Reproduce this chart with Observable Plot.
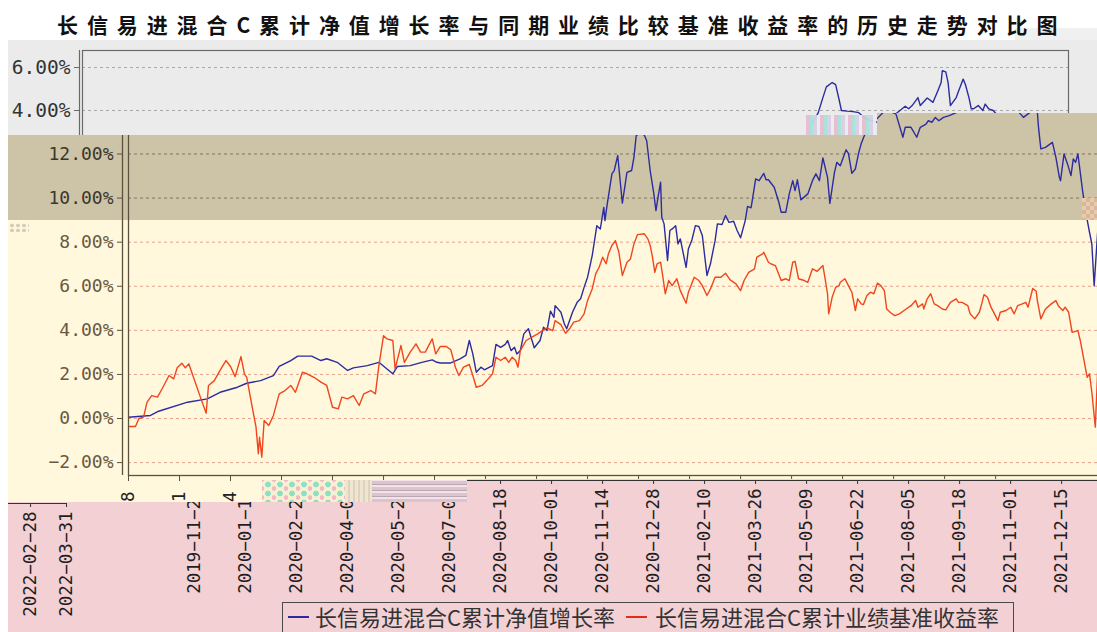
<!DOCTYPE html>
<html><head><meta charset="utf-8">
<script src="https://cdn.jsdelivr.net/npm/d3@7"></script>
<script src="https://cdn.jsdelivr.net/npm/@observablehq/plot@0.6"></script>
<style>
html,body{margin:0;padding:0;background:#fff;overflow:hidden;width:1097px;height:632px;}
#root{position:relative;width:1097px;height:632px;overflow:hidden;background:#fff;}
.abs{position:absolute;}
</style></head><body><div id="root"></div>
<script>
// ---------------- data ----------------
const titleText = "长信易进混合C累计净值增长率与同期业绩比较基准收益率的历史走势对比图";
const seriesNames = ["长信易进混合C累计净值增长率", "长信易进混合C累计业绩基准收益率"];
const startDate = "2019-11-28";
const endDate = "2022-03-31";
const tickLabels = ["2019-11-28","2020-01-11","2020-02-24","2020-04-08","2020-05-22","2020-07-05","2020-08-18","2020-10-01","2020-11-14","2020-12-28","2021-02-10","2021-03-26","2021-05-09","2021-06-22","2021-08-05","2021-09-18","2021-11-01","2021-12-15"];
const wrapTickLabels = ["2022-02-28","2022-03-31"];
const yTicksOlive = [10, 12];
const yTicksYellow = [-2, 0, 2, 4, 6, 8];
const grayTicks = [4, 6];
// [days since startDate, percent]
const navSeries = [[0,0.06],[19,0.14],[26,0.33],[51,0.74],[68,0.89],[79,1.19],[94,1.42],[102,1.60],[114,1.72],[125,1.95],[130,2.36],[140,2.63],[146,2.83],[158,2.83],[166,2.63],[171,2.71],[180,2.55],[189,2.18],[194,2.30],[206,2.40],[216,2.55],[223,2.25],[228,2.03],[232,2.36],[243,2.40],[253,2.55],[262,2.66],[266,2.55],[269,2.52],[278,2.52],[286,2.71],[291,2.86],[294,3.54],[297,2.93],[300,2.10],[304,2.33],[307,2.21],[314,2.40],[317,3.36],[321,3.23],[325,3.36],[327,3.54],[330,3.08],[333,3.23],[335,2.93],[338,3.08],[341,3.84],[345,4.07],[350,3.21],[355,3.54],[358,4.14],[361,3.99],[364,4.87],[367,4.59],[368,5.12],[373,4.82],[376,4.29],[378,4.07],[383,4.82],[387,5.27],[390,5.43],[393,5.95],[396,6.41],[400,7.39],[404,8.75],[407,8.60],[410,9.58],[411,8.98],[413,9.74],[417,11.10],[419,11.25],[422,11.93],[426,9.77],[430,11.17],[434,11.25],[436,11.85],[438,12.85],[442,12.95],[445,12.85],[447,12.60],[450,11.25],[453,10.26],[455,9.43],[457,10.11],[459,10.72],[460,9.13],[462,8.83],[465,7.17],[467,8.53],[469,8.60],[472,8.75],[474,7.92],[476,8.15],[481,6.86],[483,7.70],[486,8.10],[489,8.75],[492,8.71],[495,8.30],[499,6.49],[502,7.02],[506,8.07],[508,8.83],[512,8.80],[515,9.21],[518,8.90],[522,8.95],[525,8.53],[528,8.20],[532,8.98],[534,9.62],[537,9.56],[538,9.86],[541,10.87],[544,10.79],[548,11.12],[550,10.83],[552,10.83],[557,10.49],[561,9.81],[563,9.36],[567,9.36],[570,10.19],[573,10.79],[575,10.34],[577,10.83],[580,9.92],[586,10.19],[590,10.79],[593,11.10],[596,10.79],[599,11.82],[603,10.94],[605,9.76],[609,11.17],[611,11.62],[614,11.47],[619,12.19],[621,12.03],[624,11.12],[627,11.32],[630,12.08],[632,12.46],[636,13.0],[642,13.4],[653,14.0],[662,13.82],[668,12.76],[670,13.21],[675,13.21],[680,12.76],[683,13.21],[688,13.36],[690,13.51],[693,13.44],[696,13.66],[699,13.51],[703,13.66],[708,13.74],[715,13.9],[723,14.3],[739,14.5],[757,14.2],[768,13.9],[772,13.66],[778,13.9],[784,13.9],[785,13.21],[787,12.23],[791,12.30],[797,12.53],[800,11.85],[803,10.94],[804,10.79],[807,12.0],[810,11.55],[813,11.02],[815,11.78],[817,11.62],[819,12.0],[823,10.34],[826,9.28],[829,8.45],[831,7.92],[833,6.03],[836,8.45],[840,8.2]];
const benchSeries = [[0,-0.36],[6,-0.36],[9,0],[13,0.06],[16,0.74],[20,1.04],[25,0.97],[29,1.35],[35,1.95],[39,1.80],[42,2.30],[46,2.51],[49,2.30],[52,2.48],[55,2.03],[62,0.97],[67,0.24],[69,1.50],[74,1.72],[79,2.18],[84,2.63],[88,2.36],[92,1.90],[97,2.81],[100,2.03],[102,1.87],[107,0.44],[110,-0.39],[112,-1.60],[113,-0.85],[115,-1.75],[117,-0.09],[121,-0.32],[125,0.14],[130,1.12],[135,1.27],[140,1.50],[144,1.19],[150,2.10],[154,2.03],[160,1.87],[166,1.65],[171,1.50],[176,0.51],[181,0.44],[184,0.97],[189,0.89],[194,1.04],[199,0.59],[203,1.12],[209,1.27],[213,1.12],[216,2.40],[220,3.76],[223,3.61],[228,3.54],[230,2.25],[235,3.31],[238,2.55],[243,3.01],[248,3.39],[252,3.01],[256,3.01],[262,3.61],[265,2.93],[269,3.27],[274,3.27],[278,3.12],[282,2.33],[285,1.95],[289,2.33],[294,2.45],[297,1.95],[300,1.42],[305,1.50],[309,1.72],[314,2.03],[317,2.78],[321,2.63],[325,2.78],[328,2.55],[331,2.78],[334,2.63],[336,2.33],[338,3.08],[343,3.54],[348,3.69],[353,3.84],[357,3.99],[361,4.11],[366,3.99],[368,4.44],[373,4.26],[377,3.87],[381,4.11],[384,4.37],[389,4.44],[393,4.75],[396,5.35],[400,5.88],[403,6.56],[406,6.86],[409,7.32],[412,7.02],[414,7.47],[417,7.85],[420,8.07],[423,7.54],[426,6.49],[430,7.09],[433,7.24],[436,7.92],[439,8.34],[445,8.38],[448,8.15],[450,7.85],[452,7.32],[454,6.63],[456,7.02],[459,7.09],[461,6.41],[463,5.66],[466,6.26],[469,6.03],[473,6.34],[476,5.80],[481,5.23],[483,5.73],[488,6.41],[492,6.26],[495,6.03],[499,5.58],[502,5.88],[506,6.41],[511,6.41],[515,6.59],[519,6.29],[524,6.11],[528,5.80],[531,6.26],[535,6.63],[540,6.79],[542,7.32],[547,7.47],[548,7.54],[552,7.09],[554,7.02],[558,6.94],[563,6.26],[567,6.34],[570,6.26],[573,7.09],[575,7.13],[578,6.34],[583,6.26],[586,6.18],[590,6.79],[594,6.68],[599,6.94],[600,6.63],[603,5.66],[604,4.75],[607,5.50],[610,5.95],[613,6.03],[614,6.18],[618,6.34],[621,6.03],[624,5.73],[627,4.90],[629,5.43],[632,5.20],[634,5.17],[637,5.58],[640,5.73],[643,5.66],[646,6.14],[649,6.03],[652,5.80],[654,4.97],[657,4.82],[661,4.67],[665,4.75],[669,4.90],[675,5.12],[679,5.35],[681,5.05],[685,5.20],[686,4.97],[689,5.43],[692,5.66],[695,5.20],[698,5.12],[702,4.97],[705,4.93],[709,5.27],[714,5.43],[716,5.27],[719,5.27],[724,5.12],[726,4.75],[730,4.52],[734,4.82],[736,5.20],[738,5.62],[741,5.50],[744,5.05],[747,4.75],[750,4.44],[752,4.82],[757,4.90],[761,5.05],[764,4.75],[767,5.12],[771,5.20],[774,5.27],[776,5.05],[780,5.90],[783,5.77],[784,5.35],[787,4.52],[791,4.97],[796,5.20],[800,5.35],[802,5.12],[806,4.90],[808,5.05],[811,4.82],[814,3.91],[819,3.99],[821,3.54],[824,2.71],[827,1.87],[829,2.03],[831,1.19],[834,-0.39],[836,2.10],[840,2.4]];
// upper (grey) panel series, its own percent axis
const graySeries = [[590,3.4],[595,3.9],[599,4.6],[602,5.1],[607,5.3],[610,5.2],[613,4.5],[615,4.0],[620,3.97],[625,3.95],[630,3.9],[636,3.6],[649,3.4],[657,3.5],[662,3.85],[670,4.2],[673,4.08],[676,4.23],[681,4.6],[683,4.23],[689,4.58],[694,4.38],[698,4.9],[701,5.3],[702,5.85],[705,5.8],[707,5.3],[709,4.23],[714,4.6],[716,4.9],[720,5.46],[722,5.2],[725,4.6],[727,4.08],[729,4.08],[733,4.23],[737,4.0],[739,4.3],[742,4.08],[746,4.0],[749,3.8]];

// ---------------- build ----------------
const parse = d3.utcParse("%Y-%m-%d");
const t0 = parse(startDate), t1 = parse(endDate);
const rows = s => s.map(([d, v]) => ({date: d3.utcDay.offset(t0, d), v}));
const nav = rows(navSeries), bench = rows(benchSeries), gray = rows(graySeries);
const ticks = tickLabels.map(parse), wrapTicks = wrapTickLabels.map(parse);
const fmtPct = d => (d < 0 ? "\u2212" : "") + Math.abs(d).toFixed(2) + "%";
const fmtDate = d3.utcFormat("%Y\u2212%m\u2212%d");
const mono = "DejaVu Sans Mono";
const BLUE = "#2c2ca0", RED = "#f0461e";
const root = document.getElementById("root");

function box(l, t, w, h, css) {
  const d = document.createElement("div");
  d.className = "abs";
  Object.assign(d.style, {left: l + "px", top: t + "px", width: w + "px", height: h + "px"}, css || {});
  root.appendChild(d);
  return d;
}
function layer(clip, shift) {
  const d = box(0, 0, 1097, 632, clip ? {clipPath: clip} : {});
  const inner = document.createElement("div");
  inner.className = "abs";
  inner.style.left = "0"; inner.style.top = "0";
  if (shift) inner.style.transform = shift;
  d.appendChild(inner);
  return inner;
}
const svgStyle = {background: "transparent", maxWidth: "none", fontFamily: mono, overflow: "visible"};

// backgrounds
box(1015, 28, 82, 12, {background: "#f0f0f0"});
box(8, 135, 1089, 85, {background: "#cdc4a8"});
box(877, 113, 220, 22, {background: "#cdc4a8"});
box(8, 220, 1089, 282, {background: "#fff8dc"});
box(9, 223, 20, 9, {background: "radial-gradient(circle,#d8ccb8 1.6px,transparent 2.2px) 0 0/6px 5px"});

// main chart
const main = Plot.plot({
  width: 1130, height: 632, marginLeft: 128, marginRight: 12, marginTop: 105, marginBottom: 157,
  style: svgStyle,
  x: {type: "utc", domain: [t0, t1], label: null},
  y: {domain: [-2.585, 14.2], label: null},
  marks: [
    Plot.gridY(yTicksYellow, {stroke: "#e6a18d", strokeOpacity: 1, strokeDasharray: "3,3"}),
    Plot.gridY(yTicksOlive, {stroke: "#7e7663", strokeOpacity: 1, strokeDasharray: "3,3"}),
    Plot.line(nav, {x: "date", y: "v", stroke: BLUE, strokeWidth: 1.4}),
    Plot.line(bench, {x: "date", y: "v", stroke: RED, strokeWidth: 1.4}),
    Plot.frame({stroke: "#5c513c", strokeWidth: 1.3}),
    Plot.ruleX([t0], {dx: -6, stroke: "#5c513c", strokeWidth: 1.3}),
    Plot.axisY(yTicksOlive, {tickSize: 5, dx: -6, tickPadding: 4, tickFormat: fmtPct, fontFamily: mono, fontSize: 18, fill: "#3b362b", stroke: "#5c513c", label: null}),
    Plot.axisY(yTicksYellow, {tickSize: 5, dx: -6, tickPadding: 4, tickFormat: fmtPct, fontFamily: mono, fontSize: 18, fill: "#6a5842", stroke: "#5c513c", label: null}),
    Plot.axisX(ticks, {tickSize: 6, tickPadding: 10, tickRotate: -90, tickFormat: fmtDate, fontFamily: mono, fontSize: 17.5, fill: "#222", stroke: "#5c513c", label: null})
  ]
});
layer().appendChild(main);

// glitch strips in the axis band
box(262, 480, 83, 22, {background: "radial-gradient(circle,#8ddfc6 2.5px,transparent 3.2px) 0 0/12px 9px, radial-gradient(circle,#f2b8c8 2px,transparent 2.6px) 6px 4px/12px 9px, #f7f1d2"});
box(345, 480, 27, 22, {background: "repeating-linear-gradient(90deg,#efe6cf 0 3px,#e0d2c0 3px 5px)"});
box(372, 480, 95, 22, {background: "repeating-linear-gradient(0deg,#dcc3cc 0 3px,#f1e4e8 3px 5px,#bda6b4 5px 6px)"});

// pink band
box(8, 502, 1089, 130, {background: "#f2d0d4"});
box(467, 479, 630, 23, {background: "#f2d0d4"});

// date axis of the pink band
const axisPlot = tv => Plot.plot({
  width: 1130, height: 632, marginLeft: 128, marginRight: 12, marginTop: 470, marginBottom: 152,
  style: svgStyle,
  x: {type: "utc", domain: [t0, t1], label: null},
  y: {domain: [0, 1], axis: null},
  marks: [
    Plot.ruleY([0], {stroke: "#333"}),
    Plot.axisX(tv, {tickSize: 4, tickPadding: 4, tickRotate: -90, tickFormat: fmtDate, fontFamily: mono, fontSize: 17.5, fill: "#1e1e1e", stroke: "#333", label: null})
  ]
});
layer("polygon(8px 502px,467px 502px,467px 479px,1097px 479px,1097px 632px,8px 632px)", "translateX(66px)").appendChild(axisPlot(ticks));
layer("polygon(8px 500px,78px 500px,78px 632px,8px 632px)", "translate(-1052px,23px)").appendChild(axisPlot(wrapTicks));

// grey upper panel
const xs = d3.scaleUtc().domain([t0, t1]).range([128, 1118]);
const gx0 = xs.invert(82), gx1 = xs.invert(1068);
const grayLayer = layer("polygon(8px 40px,1097px 40px,1097px 113px,877px 113px,877px 135px,8px 135px)");
const grayBg = document.createElement("div");
grayBg.className = "abs";
Object.assign(grayBg.style, {left: "8px", top: "40px", width: "1089px", height: "95px", background: "#ebebeb"});
grayLayer.appendChild(grayBg);
const grayPlot = Plot.plot({
  width: 1130, height: 200, marginLeft: 82, marginRight: 62, marginTop: 50, marginBottom: 60,
  style: Object.assign({}, svgStyle, {position: "absolute", left: "0", top: "0"}),
  x: {type: "utc", domain: [gx0, gx1], label: null},
  y: {domain: [2.605, 6.791], label: null},
  marks: [
    Plot.gridY(grayTicks, {stroke: "#a9a9a9", strokeOpacity: 1, strokeDasharray: "3,3"}),
    Plot.line(gray, {x: "date", y: "v", stroke: BLUE, strokeWidth: 1.4}),
    Plot.frame({stroke: "#6a6a6a", strokeWidth: 1.2}),
    Plot.ruleX([gx0], {dx: -3, stroke: "#6a6a6a", strokeWidth: 1.2}),
    Plot.axisY(grayTicks, {tickSize: 5, dx: -3, tickPadding: 4, tickFormat: fmtPct, fontFamily: mono, fontSize: 19.5, fill: "#333", stroke: "#6a6a6a", label: null})
  ]
});
grayLayer.appendChild(grayPlot);

// glitch patches
box(806, 115, 70, 20, {background: "repeating-linear-gradient(90deg,rgba(232,188,210,.95) 0 4px,rgba(168,226,214,.95) 4px 7px,rgba(214,208,232,.95) 7px 11px,rgba(236,236,236,.95) 11px 14px)"});
box(1082, 198, 15, 22, {background: "repeating-conic-gradient(#d9b898 0 25%,#e6cbb0 0 50%) 0 0/8px 8px"});

// legend
const lg = box(282, 602, 732, 40, {border: "1px solid #4a4a4a", boxSizing: "border-box", fontFamily: "'Noto Sans CJK SC'", fontSize: "22px", color: "#333", lineHeight: "26px", whiteSpace: "nowrap", display: "flex", alignItems: "flex-start", paddingTop: "0px"});
[[BLUE, seriesNames[0], 5, 6], ["#e52a1a", seriesNames[1], 11, 8]].forEach(([c, name, ml, mr]) => {
  const s = document.createElement("span");
  Object.assign(s.style, {display: "inline-block", width: "21px", height: "2px", background: c, marginLeft: ml + "px", marginRight: mr + "px", marginTop: "13px"});
  const t = document.createElement("span");
  t.textContent = name;
  lg.appendChild(s); lg.appendChild(t);
});

// title
box(57, 11, 1040, 26, {fontFamily: "'Noto Sans CJK SC'", fontWeight: "700", fontSize: "21px", letterSpacing: "8.9px", lineHeight: "26px", color: "#111", whiteSpace: "nowrap"}).textContent = titleText;
</script></body></html>
